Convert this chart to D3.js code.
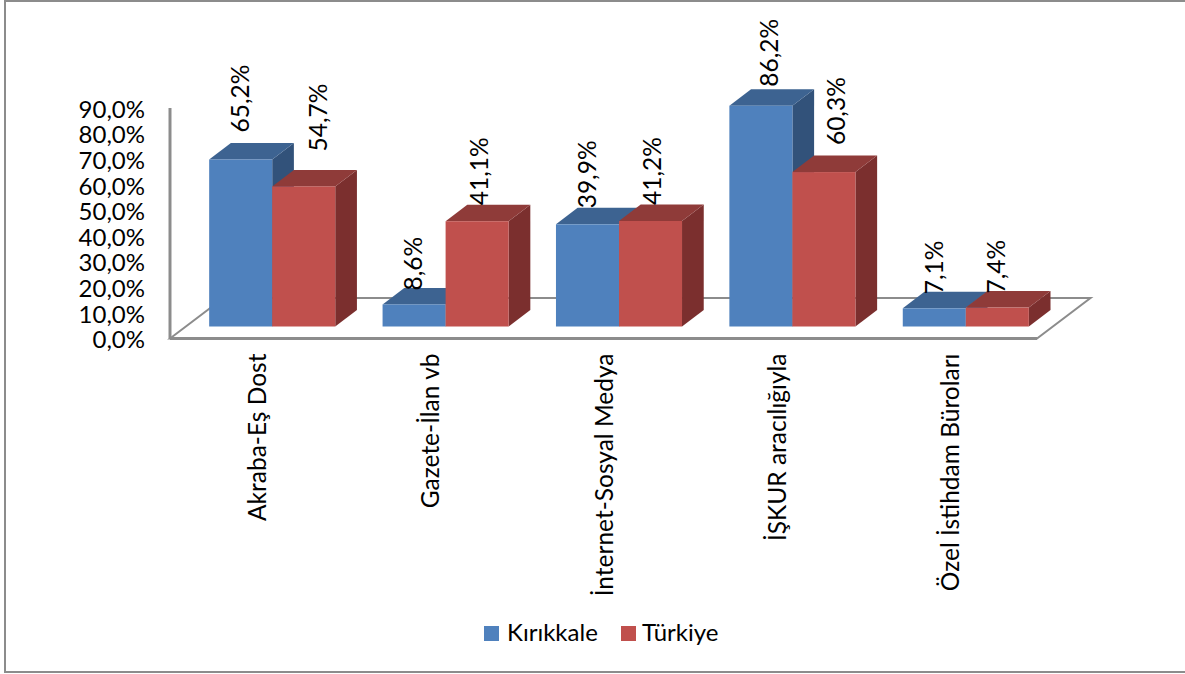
<!DOCTYPE html>
<html>
<head>
<meta charset="utf-8">
<style>
  html, body { margin: 0; padding: 0; background: #fff; }
  text { font-family: Lato, "Open Sans", sans-serif; fill: #000; }
</style>
</head>
<body>
<div id="root"></div>
<script src="https://cdn.jsdelivr.net/npm/d3@7"></script>
<script>
const categories = ["Akraba-Eş Dost", "Gazete-İlan vb", "İnternet-Sosyal Medya", "İŞKUR aracılığıyla", "Özel İstihdam Büroları"];
const seriesNames = ["Kırıkkale", "Türkiye"];
const kirikkale = [65.2, 8.6, 39.9, 86.2, 7.1];
const turkiye = [54.7, 41.1, 41.2, 60.3, 7.4];
const yTicks = [0, 10, 20, 30, 40, 50, 60, 70, 80, 90];

const w = 1185;
const h = 674;
const colors = [
  { front: "#4f81bd", top: "#3d6391", side: "#32527a" },
  { front: "#c0504d", top: "#8f3b39", side: "#7b2f2e" }
];
const axisColor = "#8c8c8c";
const comma = v => v.toFixed(1).replace(".", ",") + "%";

// the 3d box: front face sits this far from the axis plane
const depth = { x: 21.7, y: 16.5 };
const floor = { x: 53.5, y: 40.5 };
const shift = { x: 15.5, y: -12 };

const xScale = d3.scaleBand()
  .domain(categories)
  .range([170, 1037])
  .paddingInner(0.273)
  .paddingOuter(0.1365);

const xInner = d3.scaleBand()
  .domain(seriesNames)
  .range([0, xScale.bandwidth()]);

const yScale = d3.scaleLinear()
  .domain([0, 90])
  .range([338.5, 108]);

const svg = d3.select("#root")
  .append("svg")
  .attr("width", w)
  .attr("height", h)
  .style("display", "block");

// outer frame
svg.append("rect")
  .attr("x", 5)
  .attr("y", 1)
  .attr("width", 1185)
  .attr("height", 671)
  .attr("fill", "#fff")
  .attr("stroke", axisColor)
  .attr("stroke-width", 2);

// floor and wall
const x0 = 170;
const x1 = 1037;
const y0 = yScale(0);
svg.append("path")
  .attr("d", `M${x0},${y0}L${x0 + floor.x},${y0 - floor.y}L${x1 + floor.x},${y0 - floor.y}L${x1},${y0}Z`)
  .attr("fill", "none")
  .attr("stroke", axisColor)
  .attr("stroke-width", 2);

svg.append("line")
  .attr("x1", x0)
  .attr("x2", x0)
  .attr("y1", yScale(90))
  .attr("y2", y0)
  .attr("stroke", axisColor)
  .attr("stroke-width", 3);

svg.append("line")
  .attr("x1", x0)
  .attr("x2", x1)
  .attr("y1", y0)
  .attr("y2", y0)
  .attr("stroke", axisColor)
  .attr("stroke-width", 3);

// y axis
const yAxis = d3.axisLeft(yScale)
  .tickValues(yTicks)
  .tickFormat(comma)
  .tickSize(0)
  .tickPadding(25);

const yG = svg.append("g")
  .attr("transform", `translate(${x0},1.5)`)
  .call(yAxis);
yG.select(".domain").remove();
yG.selectAll("text").style("font-size", "24px").style("font-family", "Lato");

// bars
const rows = [];
categories.forEach((c, i) => {
  rows.push({ cat: c, s: 0, v: kirikkale[i] });
  rows.push({ cat: c, s: 1, v: turkiye[i] });
});

const bar = svg.selectAll(".bar")
  .data(rows)
  .enter()
  .append("g")
  .attr("class", "bar");

const barLeft = d => xScale(d.cat) + xInner(seriesNames[d.s]) + shift.x;
const barRight = d => barLeft(d) + xInner.bandwidth();
const barTop = d => yScale(d.v) + shift.y;
const barBase = () => y0 + shift.y;

bar.append("path")
  .attr("fill", d => colors[d.s].side)
  .attr("d", d => `M${barRight(d)},${barTop(d)}l${depth.x},${-depth.y}L${barRight(d) + depth.x},${barBase() - depth.y}L${barRight(d)},${barBase()}Z`);

bar.append("path")
  .attr("fill", d => colors[d.s].top)
  .attr("d", d => `M${barLeft(d)},${barTop(d)}l${depth.x},${-depth.y}L${barRight(d) + depth.x},${barTop(d) - depth.y}L${barRight(d)},${barTop(d)}Z`);

bar.append("rect")
  .attr("fill", d => colors[d.s].front)
  .attr("x", barLeft)
  .attr("y", barTop)
  .attr("width", xInner.bandwidth())
  .attr("height", d => barBase() - barTop(d));

// data labels, Excel dragged them around a bit so nudges are by hand
const labelDx = [
  [0, 15], [0, 3], [1, 2], [9, 13], [1, 0]
];
const labelGap = [
  [27, 35], [14, 16], [16, 16], [19, 27], [14, 14]
];

svg.selectAll(".value")
  .data(rows)
  .enter()
  .append("text")
  .attr("class", "value")
  .attr("transform", d => {
    const i = categories.indexOf(d.cat);
    const cx = barLeft(d) + xInner.bandwidth() / 2 + labelDx[i][d.s] + 8;
    return `translate(${cx},${barTop(d) - labelGap[i][d.s]}) rotate(-90)`;
  })
  .style("font-size", "24.5px")
  .text(d => comma(d.v));

// category labels
const xAxis = d3.axisBottom(xScale).tickSize(0).tickPadding(0);
const xG = svg.append("g")
  .attr("transform", `translate(0,${y0})`)
  .call(xAxis);
xG.select(".domain").remove();
xG.selectAll("text")
  .attr("transform", "translate(9,15) rotate(-90)")
  .attr("text-anchor", "end")
  .attr("x", 0)
  .attr("y", 0)
  .attr("dy", 0)
  .style("font-size", "24.5px")
  .style("font-family", "Lato");

// legend
const legendX = [484, 621];
const legend = svg.selectAll(".legend")
  .data(seriesNames)
  .enter()
  .append("g")
  .attr("class", "legend")
  .attr("transform", (d, i) => `translate(${legendX[i]},626)`);

legend.append("rect")
  .attr("width", 15)
  .attr("height", 15)
  .attr("fill", (d, i) => colors[i].front);

legend.append("text")
  .attr("x", (d, i) => i === 0 ? 23 : 21)
  .attr("y", 15)
  .style("font-size", "24px")
  .text(d => d);
</script>
</body>
</html>
